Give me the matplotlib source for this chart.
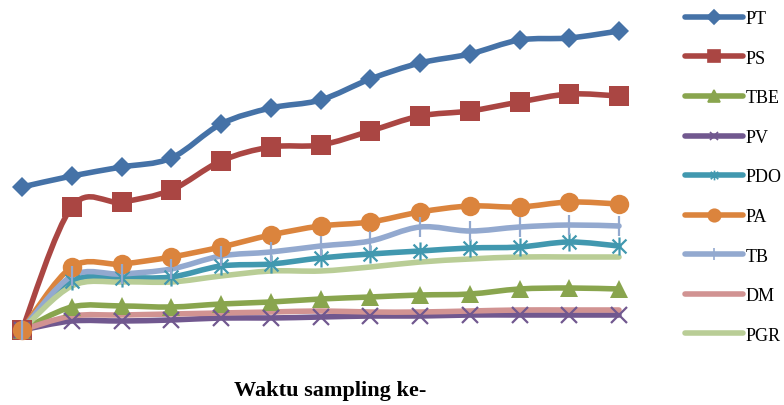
import matplotlib
matplotlib.use("Agg")
import matplotlib.pyplot as plt
import matplotlib.patches as mpatches
import numpy as np
from matplotlib.path import Path
from matplotlib.lines import Line2D

# sampling index 1..13
samples = np.arange(1, 14)

# values (no axis in the original, arbitrary units)
PT = [143, 154, 163, 172, 206, 222, 230, 251, 267, 276, 290, 292, 299]
PS = [0, 123, 128, 140, 169, 183, 185, 199, 214, 219, 228, 236, 234]
TBE = [0, 23, 24, 23, 26, 28, 31, 33, 35, 36, 41, 42, 41]
PV = [0, 9, 9, 10, 12, 12, 13, 14, 14, 15, 15, 15, 15]
PDO = [0, 49, 52, 53, 64, 66, 72, 76, 79, 82, 83, 88, 84]
PA = [0, 63, 66, 73, 83, 95, 104, 108, 118, 124, 123, 128, 126]
TB = [0, 54, 56, 61, 74, 78, 84, 89, 103, 99, 103, 105, 104]
DM = [0, 14, 15, 16, 17, 18, 19, 18, 18, 19, 20, 20, 20]
PGR = [0, 44, 48, 48, 54, 59, 59, 63, 68, 71, 73, 73, 73]

names = ["PT", "PS", "TBE", "PV", "PDO", "PA", "TB", "DM", "PGR"]
series = [PT, PS, TBE, PV, PDO, PA, TB, DM, PGR]
colors = ["#4572A7", "#AA4643", "#89A54E", "#71588F", "#4198AF",
          "#DB843D", "#93A9CF", "#D19392", "#B9CD96"]

# excel style asterisk: an x plus a vertical bar
star = Path([(-1, -1), (1, 1), (-1, 1), (1, -1), (0, -1.3), (0, 1.3)],
            [Path.MOVETO, Path.LINETO, Path.MOVETO, Path.LINETO, Path.MOVETO, Path.LINETO])

markers = ["D", "s", "^", "x", star, "o", "|", None, None]
msizes = [10, 14, 13, 11, 13, 14, 14, 0, 0]
lmsizes = [7, 9, 8, 6, 7, 9, 9, 0, 0]


def smooth_path(x, y):
    # bezier segments like the smoothed lines of a spreadsheet chart
    pts = np.column_stack([x, y]).astype(float)
    n = len(pts)
    verts = [pts[0]]
    codes = [Path.MOVETO]
    for i in range(n - 1):
        p0 = pts[max(i - 1, 0)]
        p1 = pts[i]
        p2 = pts[i + 1]
        p3 = pts[min(i + 2, n - 1)]
        c1 = p1 + (p2 - p0) / 6
        c2 = p2 - (p3 - p1) / 6
        verts += [c1, c2, p2]
        codes += [Path.CURVE4] * 3
    return Path(verts, codes)


plt.rcParams['font.family'] = ['Liberation Serif', 'DejaVu Serif']

fig = plt.figure(figsize=(7.84, 4.06), dpi=100)
ax = fig.add_axes([22 / 784, (406 - 331) / 406, 597 / 784, 299 / 406])

handles = []
for vals, name, col, mk, ms, lms in zip(series, names, colors, markers, msizes, lmsizes):
    p = smooth_path(samples, vals)
    ax.add_patch(mpatches.PathPatch(p, facecolor="none", edgecolor=col, lw=4,
                                    capstyle="round", joinstyle="round", clip_on=False))
    if mk is not None:
        mew = 1.6 if mk in ("x", "|") or mk is star else 0
        ax.plot(samples, vals, linestyle="none", marker=mk, markersize=ms,
                color=col, markeredgewidth=mew, clip_on=False)
    handles.append(Line2D([], [], color=col, lw=4, solid_capstyle="round",
                          marker=mk, markersize=lms, markeredgewidth=1.2))

ax.set_xlim(1, 13)
ax.set_ylim(0, 299)
ax.axis("off")

fig.legend(handles, names, loc="upper left", bbox_to_anchor=(678 / 784, 1 - 4 / 406),
           frameon=False, fontsize=13, handlelength=3.2, handletextpad=0.15,
           labelspacing=1.25, borderaxespad=0)

fig.text(330 / 784, 0.036, "Waktu sampling ke-", ha="center", va="center",
         fontsize=16, fontweight="bold")

fig.savefig("out.png", dpi=100)
